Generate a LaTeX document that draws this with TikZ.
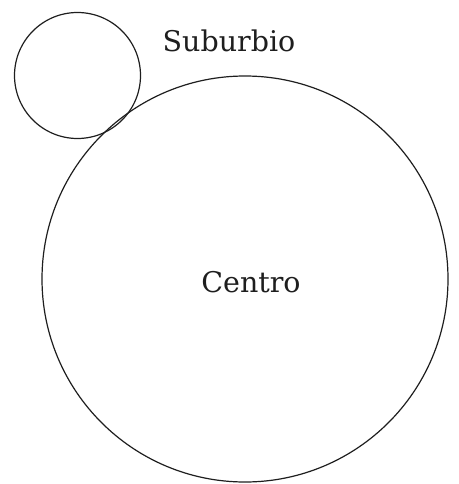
\documentclass[tikz,border=0pt]{standalone}
\usepackage{fontspec}
\setmainfont{DejaVu Serif}
\usepackage{tikz}
\usetikzlibrary{positioning}
\definecolor{zInk}{RGB}{30,30,30}

\begin{document}
\begin{tikzpicture}[
    x=1pt,y=-1pt,
    every node/.style={font=\fontsize{28.5}{32}\selectfont,color=zInk},
    zone/.style={circle,draw=zInk,line width=1.2pt,inner sep=0pt},
    lbl/.style={anchor=base,inner sep=0pt}
  ]
  \useasboundingbox (0,0) rectangle (458,484);
  % Zones
  \node[zone,minimum size=126pt] (sub) at (77.5,75.5) {};
  \node[zone,minimum size=406pt] (cen) at (245,279) {};
  % Labels
  \node[lbl] (subT) at (229,52) {Suburbio};
  \node[lbl] (cenT) at (251,292) {Centro};
\end{tikzpicture}
\end{document}
